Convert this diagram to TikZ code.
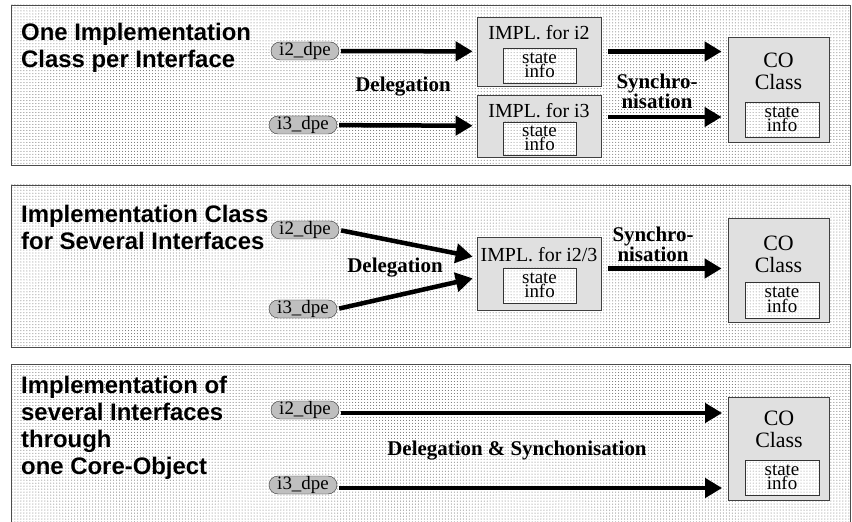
\documentclass[tikz,border=0pt]{standalone}
\usepackage{fontspec}
\setmainfont{Liberation Serif}
\newfontfamily\headfont{Liberation Sans}
\usetikzlibrary{arrows.meta,shapes.misc,patterns}

\tikzset{
  panel/.style={draw=black!70, line width=0.8bp, preaction={fill=white}, pattern=dots, pattern color=black!60},
  head/.style={anchor=north west, inner sep=0pt, align=left, font=\headfont\bfseries\fontsize{24}{27}\selectfont},
  dpe/.style={rounded rectangle, draw=black!80, fill=black!25, inner sep=0pt, minimum width=68bp, minimum height=18bp, font=\fontsize{19}{19}\selectfont},
  implbox/.style={draw=black!75, line width=0.8bp, fill=black!12, minimum width=124bp, inner sep=0pt},
  cobox/.style={draw=black!75, line width=0.8bp, fill=black!12, minimum width=101bp, inner sep=0pt},
  infobox/.style={draw=black!80, preaction={fill=white}, pattern=dots, pattern color=black!45, minimum width=73bp, minimum height=35bp, inner sep=0pt, align=center, font=\fontsize{19}{13}\selectfont},
  lbl/.style={inner sep=0pt, align=center, font=\fontsize{20}{20}\selectfont},
  cotext/.style={inner sep=0pt, align=center, font=\fontsize{22}{22}\selectfont},
  boldlbl/.style={inner sep=0pt, align=center, font=\bfseries\fontsize{21}{18}\selectfont},
  flow/.style={line width=4.5bp, ->, shorten <=2bp},
}

\begin{document}
\begin{tikzpicture}[x=1bp, y=-1bp, >={Triangle[length=17bp,width=19bp]}]
\useasboundingbox (0,0) rectangle (852,522);

% панель 1
\draw[panel] (11,5) rectangle (850,165);
\node[head] (t1) at (21,23) {One Implementation\\Class per Interface};
\node[dpe] (p1a) at (305,51) {i2\_dpe};
\node[dpe] (p1b) at (303,125) {i3\_dpe};
\node[implbox, minimum height=69bp] (m1a) at (539,51.5) {}; % IMPL. for i2
\node[lbl] (m1at) at (539,33) {IMPL. for i2};
\node[infobox] (s1a) at (539.5,65.5) {state\\info};
\node[implbox, minimum height=62bp] (m1b) at (539,126) {}; % IMPL. for i3
\node[lbl] (m1bt) at (539,111) {IMPL. for i3};
\node[infobox, minimum height=33bp] (s1b) at (539.5,138.5) {state\\info};
\node[cobox, minimum height=105bp] (c1) at (778.5,89.5) {}; % CO Class
\node[cotext] (c1t) at (778.5,71) {CO\\Class};
\node[infobox, minimum width=74bp] (s1c) at (782,119.5) {state\\info};
\node[boldlbl] (d1) at (403,87) {Delegation};
\node[boldlbl] (y1) at (657,91) {Synchro-\\nisation};

\draw[flow, shorten >=4bp] (p1a) -- (m1a);
\draw[flow, shorten >=4bp] (p1b) -- (m1b);
\draw[flow, shorten <=7bp, shorten >=6bp] (m1a.east) -- (m1a.east -| c1.west);
\draw[flow, shorten <=7bp, shorten >=6bp] ([yshift=9bp]m1b.east) -- ([yshift=9bp]m1b.east -| c1.west);

% панель 2
\draw[panel] (11,185) rectangle (850,347);
\node[head] (t2) at (21,205) {Implementation Class\\for Several Interfaces};
\node[dpe] (p2a) at (305,230) {i2\_dpe};
\node[dpe] (p2b) at (303,309) {i3\_dpe};
\node[implbox, minimum height=73bp] (m2) at (539,273.5) {}; % IMPL. for i2/3
\node[lbl] (m2t) at (539,255) {IMPL. for i2/3};
\node[infobox] (s2a) at (539.5,285.5) {state\\info};
\node[cobox, minimum height=104bp] (c2) at (778.5,270) {};
\node[cotext] (c2t) at (778.5,254) {CO\\Class};
\node[infobox, minimum width=74bp, minimum height=36bp] (s2c) at (782,300) {state\\info};
\node[boldlbl] (d2) at (395,268) {Delegation};
\node[boldlbl] (y2) at (653,244) {Synchro-\\nisation};

\draw[flow, shorten >=4bp] (p2a.east) -- ([yshift=16bp]m2.west);
\draw[flow, shorten >=4bp] (p2b.east) -- ([yshift=-4bp]m2.west);
\draw[flow, shorten <=7bp, shorten >=6bp] ([yshift=5bp]m2.east) -- ([yshift=5bp]m2.east -| c2.west);

% панель 3 (снизу обрезана)
\path[panel, draw=none] (11,364) rectangle (850,523);
\draw[black!70, line width=0.8bp] (11,523) |- (850,364) -- (850,523);
\node[head] (t3) at (21,376) {Implementation of\\several Interfaces\\through\\one Core-Object};
\node[dpe] (p3a) at (305,410) {i2\_dpe};
\node[dpe] (p3b) at (303,485) {i3\_dpe};
\node[cobox, minimum height=103bp] (c3) at (779,448.5) {};
\node[cotext] (c3t) at (779,429) {CO\\Class};
\node[infobox, minimum width=74bp] (s3c) at (782,477.5) {state\\info};
\node[boldlbl] (d3) at (517,451) {Delegation \& Synchonisation};

\draw[flow, shorten >=6bp] ([yshift=-3bp]p3a.east) -- ([yshift=-3bp]p3a.east -| c3.west);
\draw[flow, shorten >=6bp] ([yshift=-3bp]p3b.east) -- ([yshift=-3bp]p3b.east -| c3.west);

\end{tikzpicture}
\end{document}
